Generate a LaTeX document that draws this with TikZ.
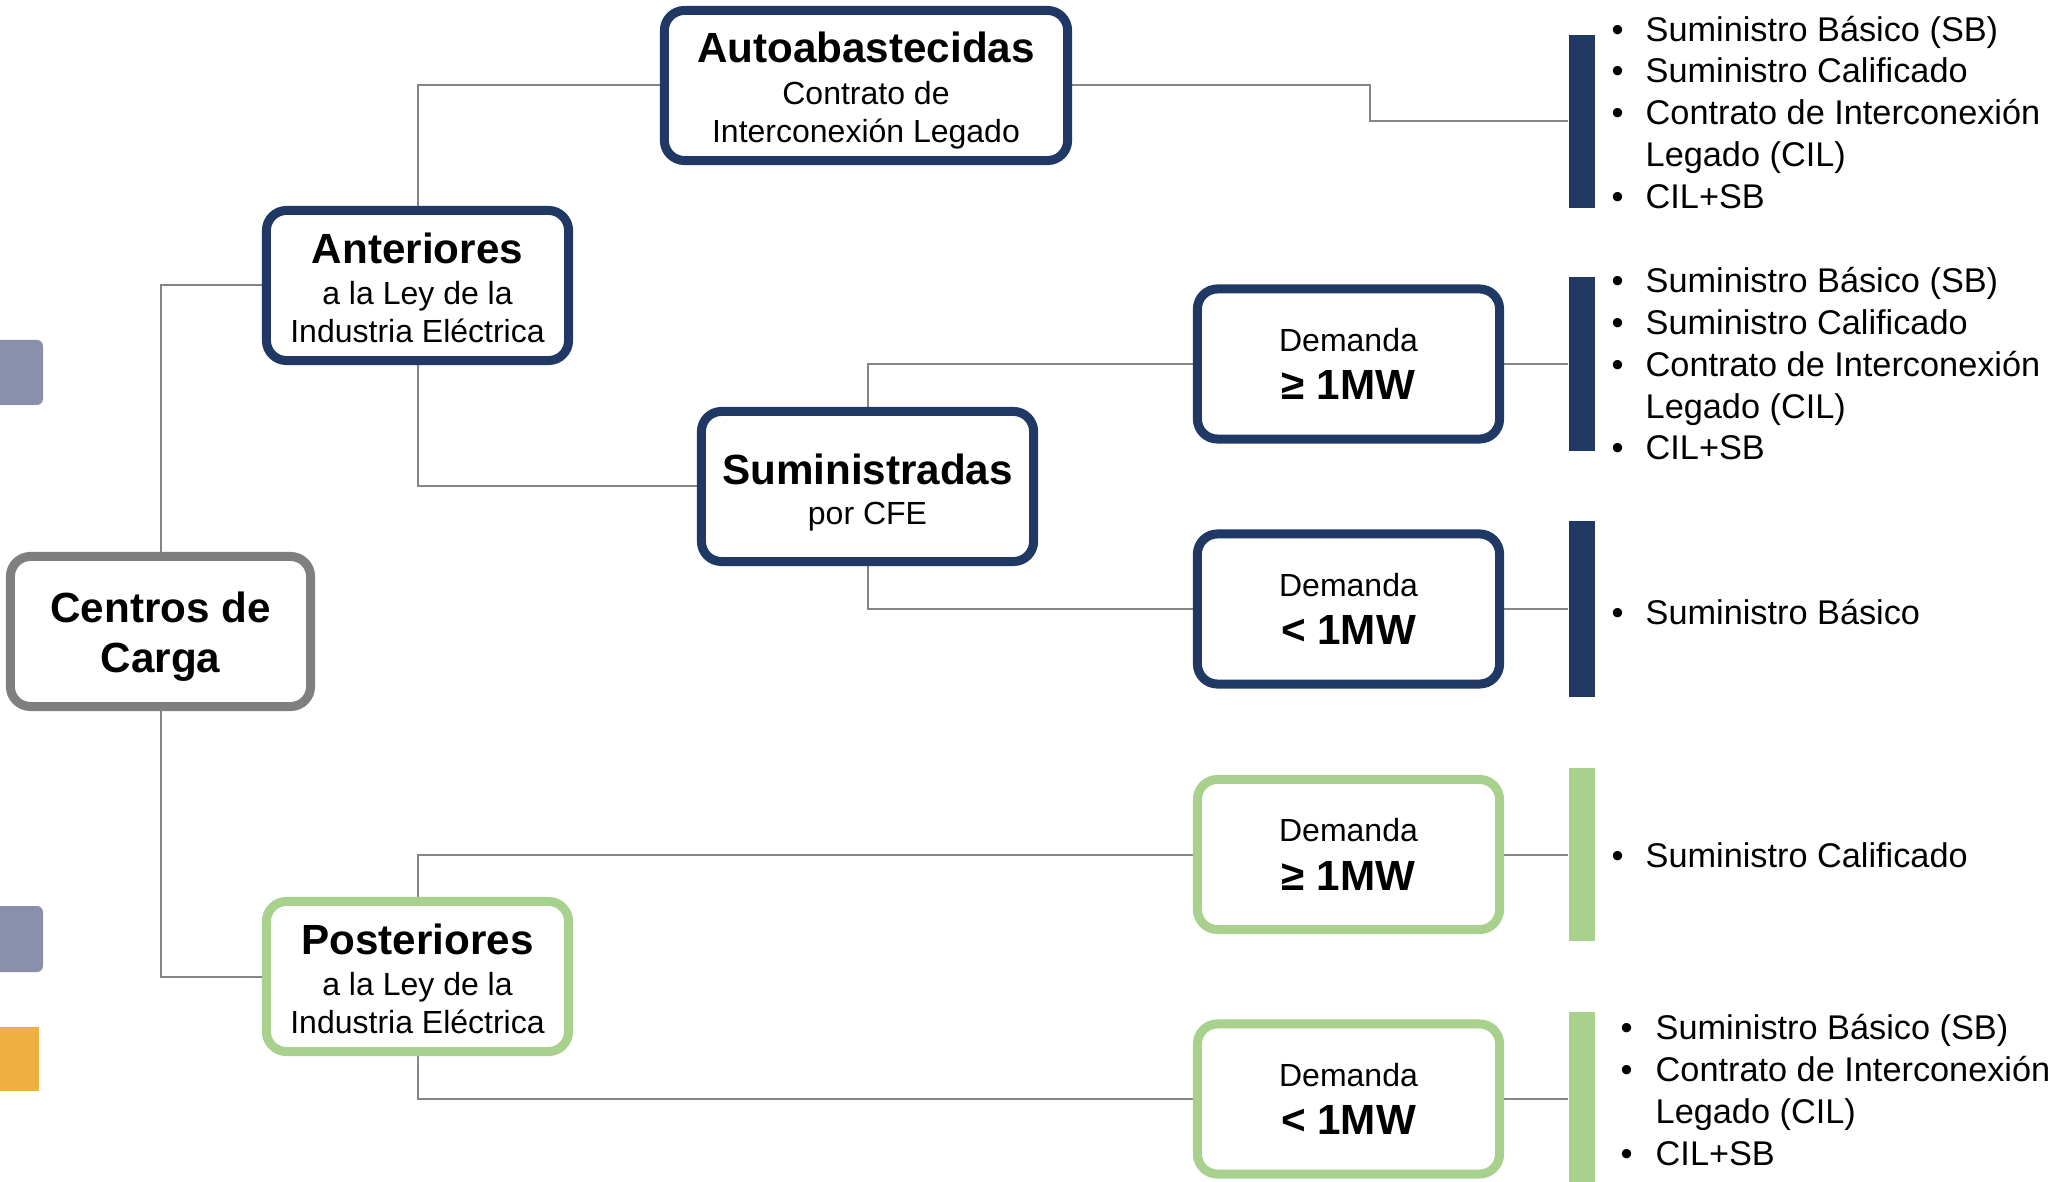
\documentclass[tikz,border=0pt]{standalone}
\usepackage{fontspec}
\setmainfont{Liberation Sans}
\usetikzlibrary{backgrounds}
\definecolor{navy}{HTML}{203864}
\definecolor{lgreen}{HTML}{A9D18E}
\definecolor{bgray}{HTML}{7F7F7F}
\definecolor{linegray}{HTML}{868686}
\definecolor{decoblue}{HTML}{8A8FAB}
\definecolor{decoorange}{HTML}{EFB041}
\newcommand\myttl{\fontsize{12}{14}\selectfont\bfseries}
\newcommand\mysub{\fontsize{9.1}{10.7}\selectfont}
\newcommand\mycen{\fontsize{12}{14.2}\selectfont\bfseries}
\newcommand\mylist{\fontsize{9.75}{11.92}\selectfont}
\newcommand\bul{\makebox[9.67pt][l]{•}}
\newcommand\bulb{\makebox[9.96pt][l]{•}}
\newcommand\lift[1]{\rule{0pt}{#1}}
\begin{document}
\begin{tikzpicture}[x=0.01cm,y=-0.01cm,
  box/.style={draw, rounded corners=0.2cm, line width=0.09cm, fill=white, inner sep=0pt,
    align=center, minimum height=1.5cm, font=\mysub},
  navybox/.style={box, draw=navy},
  greenbox/.style={box, draw=lgreen},
  graybox/.style={box, draw=bgray},
  conn/.style={draw=linegray, line width=0.02cm},
  bar/.style={rectangle, inner sep=0pt, minimum width=0.26cm},
  itemlist/.style={anchor=base west, align=left, inner sep=0pt, font=\mylist}]
\useasboundingbox (0,0) rectangle (2053,1182);

% left decorations
\fill[decoblue, rounded corners=0.06cm] (-30,340) rectangle (43,405);
\fill[decoblue, rounded corners=0.06cm] (-30,906) rectangle (43,972);
\fill[decoorange] (-10,1027) rectangle (39,1091);

% boxes
\node[graybox, minimum width=3.0cm, font=\mycen] (cen) at (160.5,631.5) {\lift{11.6pt}Centros de\\Carga};
\node[navybox, minimum width=3.02cm] (ant) at (417.5,285.5) {\lift{10.1pt}{\myttl Anteriores}\\[0.9pt]a la Ley de la\\Industria Eléctrica};
\node[greenbox, minimum width=3.02cm] (post) at (417.5,976.5) {\lift{10.1pt}{\myttl Posteriores}\\[0.9pt]a la Ley de la\\Industria Eléctrica};
\node[navybox, minimum width=4.03cm] (auto) at (866,85.5) {\lift{11.5pt}{\myttl Autoabastecidas}\\[1.3pt]Contrato de\\Interconexión Legado};
\node[navybox, minimum width=3.32cm] (sum) at (867.5,486.5) {\lift{12.2pt}{\myttl Suministradas}\\[0.6pt]por CFE};
\node[navybox, minimum width=3.02cm] (d1) at (1348.5,364) {Demanda\\[3.1pt]{\myttl ≥ 1MW}};
\node[navybox, minimum width=3.02cm] (d2) at (1348.5,609) {Demanda\\[3.1pt]{\myttl < 1MW}};
\node[greenbox, minimum width=3.02cm] (d3) at (1348.5,854.5) {Demanda\\[3.1pt]{\myttl ≥ 1MW}};
\node[greenbox, minimum width=3.02cm] (d4) at (1348.5,1099) {Demanda\\[3.1pt]{\myttl < 1MW}};

% bars
\node[bar, fill=navy, minimum height=1.73cm] (bar1) at (1582,121.5) {};
\node[bar, fill=navy, minimum height=1.74cm] (bar2) at (1582,364) {};
\node[bar, fill=navy, minimum height=1.75cm] (bar3) at (1582,609) {};
\node[bar, fill=lgreen, minimum height=1.73cm] (bar4) at (1582,854.5) {};
\node[bar, fill=lgreen, minimum height=1.74cm] (bar5) at (1582,1099) {};

% connectors
\coordinate (k1) at (1370,85.5);
\begin{scope}[on background layer]
\draw[conn] (cen.north) |- (ant.west);
\draw[conn] (cen.south) |- (post.west);
\draw[conn] (ant.north) |- (auto.west);
\draw[conn] (ant.south) |- (sum.west);
\draw[conn] (sum.north) |- (d1.west);
\draw[conn] (sum.south) |- (d2.west);
\draw[conn] (post.north) |- (d3.west);
\draw[conn] (post.south) |- (d4.west);
\draw[conn] (auto.east) -- (k1) |- (bar1.west);
\draw[conn] (d1.east) -- (bar2.west);
\draw[conn] (d2.east) -- (bar3.west);
\draw[conn] (d3.east) -- (bar4.west);
\draw[conn] (d4.east) -- (bar5.west);
\end{scope}

% lists (base anchor = baseline of last line)
\node[itemlist] (l1) at (1611,208.7) {\bul Suministro Básico (SB)\\\bul Suministro Calificado\\\bul Contrato de Interconexión\\\hspace*{9.67pt}Legado (CIL)\\\bul CIL+SB};
\node[itemlist] (l2) at (1611,460) {\bul Suministro Básico (SB)\\\bul Suministro Calificado\\\bul Contrato de Interconexión\\\hspace*{9.67pt}Legado (CIL)\\\bul CIL+SB};
\node[itemlist] (l3) at (1611,625) {\bul Suministro Básico};
\node[itemlist] (l4) at (1611,867.5) {\bul Suministro Calificado};
\node[itemlist] (l5) at (1620,1165.7) {\bulb Suministro Básico (SB)\\\bulb Contrato de Interconexión\\\hspace*{9.96pt}Legado (CIL)\\\bulb CIL+SB};
\end{tikzpicture}
\end{document}
